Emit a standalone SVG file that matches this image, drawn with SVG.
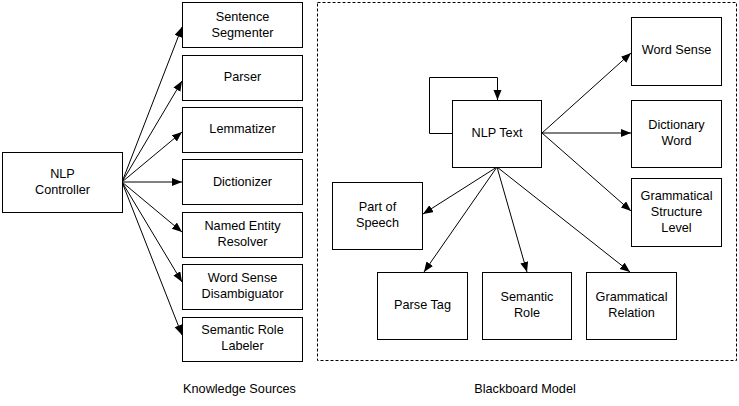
<svg xmlns="http://www.w3.org/2000/svg" width="739" height="406" viewBox="0 0 739 406">
<style>
.box{fill:#fff;stroke:#000;stroke-width:1}
.t{font-family:"Liberation Sans",Arial,sans-serif;font-size:12.7px;fill:#000;text-anchor:middle;dominant-baseline:central}
.c{fill:none;stroke:#000;stroke-width:1}
</style>
<defs>
<marker id="ah" markerUnits="userSpaceOnUse" markerWidth="11" markerHeight="9" refX="10" refY="4" orient="auto">
<path d="M0,0 L10,4 L0,8 z" fill="#000"/>
</marker>
</defs>
<rect x="0" y="0" width="739" height="406" fill="#fff"/>
<rect x="317.5" y="2.5" width="419" height="358" fill="none" stroke="#000" stroke-dasharray="3,2"/>
<g id="connectors">
<line class="c" x1="122" y1="182" x2="182" y2="27" marker-end="url(#ah)"/>
<line class="c" x1="122" y1="182" x2="182" y2="81" marker-end="url(#ah)"/>
<line class="c" x1="122" y1="182" x2="182" y2="132" marker-end="url(#ah)"/>
<line class="c" x1="122" y1="182" x2="182" y2="182" marker-end="url(#ah)"/>
<line class="c" x1="122" y1="182" x2="182" y2="232" marker-end="url(#ah)"/>
<line class="c" x1="122" y1="182" x2="182" y2="282" marker-end="url(#ah)"/>
<line class="c" x1="122" y1="182" x2="182" y2="335" marker-end="url(#ah)"/>
<polyline class="c" points="452,133.5 429.5,133.5 429.5,77.5 497.5,77.5 497.5,100" marker-end="url(#ah)"/>
<line class="c" x1="542" y1="133" x2="631" y2="53" marker-end="url(#ah)"/>
<line class="c" x1="542" y1="133" x2="631" y2="133" marker-end="url(#ah)"/>
<line class="c" x1="542" y1="133" x2="631" y2="211" marker-end="url(#ah)"/>
<line class="c" x1="497" y1="167" x2="423" y2="214" marker-end="url(#ah)"/>
<line class="c" x1="497" y1="167" x2="424" y2="272" marker-end="url(#ah)"/>
<line class="c" x1="497" y1="167" x2="527" y2="272" marker-end="url(#ah)"/>
<line class="c" x1="497" y1="167" x2="630" y2="272" marker-end="url(#ah)"/>
</g>
<g id="nlp-controller"><rect class="box" x="2.5" y="152.5" width="120" height="60"/><text class="t" x="62.5" y="174">NLP</text><text class="t" x="62.5" y="190">Controller</text></g>
<g id="sentence-segmenter"><rect class="box" x="182.5" y="2.5" width="120" height="45"/><text class="t" x="242.5" y="17">Sentence</text><text class="t" x="242.5" y="33">Segmenter</text></g>
<g id="parser"><rect class="box" x="182.5" y="55.5" width="120" height="45"/><text class="t" x="242.5" y="77">Parser</text></g>
<g id="lemmatizer"><rect class="box" x="182.5" y="107.5" width="120" height="45"/><text class="t" x="242.5" y="129">Lemmatizer</text></g>
<g id="dictionizer"><rect class="box" x="182.5" y="159.5" width="120" height="45"/><text class="t" x="242.5" y="182">Dictionizer</text></g>
<g id="named-entity-resolver"><rect class="box" x="182.5" y="212.5" width="120" height="45"/><text class="t" x="242.5" y="226">Named Entity</text><text class="t" x="242.5" y="242">Resolver</text></g>
<g id="word-sense-disambiguator"><rect class="box" x="182.5" y="264.5" width="120" height="45"/><text class="t" x="242.5" y="278">Word Sense</text><text class="t" x="242.5" y="294">Disambiguator</text></g>
<g id="semantic-role-labeler"><rect class="box" x="182.5" y="317.5" width="120" height="44"/><text class="t" x="242.5" y="330">Semantic Role</text><text class="t" x="242.5" y="346">Labeler</text></g>
<g id="nlp-text"><rect class="box" x="452.5" y="100.5" width="89" height="67"/><text class="t" x="497" y="133">NLP Text</text></g>
<g id="word-sense"><rect class="box" x="631.5" y="17.5" width="90" height="68"/><text class="t" x="676.5" y="50">Word Sense</text></g>
<g id="dictionary-word"><rect class="box" x="631.5" y="100.5" width="90" height="67"/><text class="t" x="676.5" y="125">Dictionary</text><text class="t" x="676.5" y="141">Word</text></g>
<g id="grammatical-structure-level"><rect class="box" x="631.5" y="178.5" width="90" height="68"/><text class="t" x="676.5" y="196">Grammatical</text><text class="t" x="676.5" y="212">Structure</text><text class="t" x="676.5" y="228">Level</text></g>
<g id="part-of-speech"><rect class="box" x="332.5" y="182.5" width="90" height="67"/><text class="t" x="377.5" y="207">Part of</text><text class="t" x="377.5" y="223">Speech</text></g>
<g id="parse-tag"><rect class="box" x="377.5" y="272.5" width="90" height="67"/><text class="t" x="422.5" y="305">Parse Tag</text></g>
<g id="semantic-role"><rect class="box" x="482.5" y="272.5" width="89" height="67"/><text class="t" x="527" y="297">Semantic</text><text class="t" x="527" y="313">Role</text></g>
<g id="grammatical-relation"><rect class="box" x="586.5" y="272.5" width="90" height="67"/><text class="t" x="631.5" y="297">Grammatical</text><text class="t" x="631.5" y="313">Relation</text></g>
<text class="t" x="239.5" y="389">Knowledge Sources</text>
<text class="t" x="525" y="389">Blackboard Model</text>
</svg>
